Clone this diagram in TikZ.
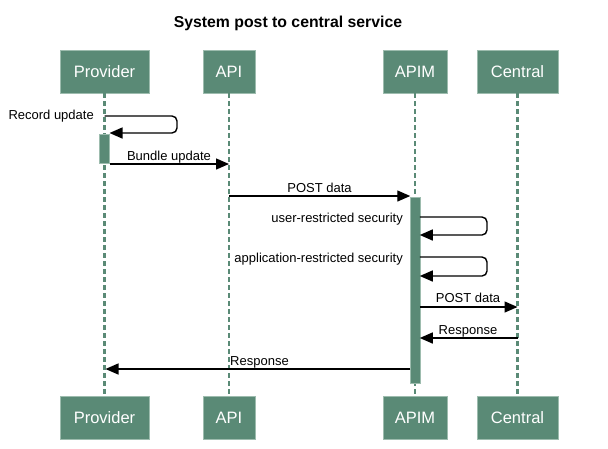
\documentclass[tikz,border=0pt]{standalone}
\usepackage{fontspec}
\setmainfont{Liberation Sans}
\usetikzlibrary{arrows.meta}
\definecolor{boxgreen}{HTML}{5A8A76}
\definecolor{boxedge}{HTML}{9DBCAE}
\tikzset{
  actor/.style={draw=boxedge, line width=0.8pt, fill=boxgreen, minimum height=43pt, inner sep=0pt, text=white, font=\fontsize{16.5}{18}\selectfont},
  lifeline/.style={draw=boxgreen, line width=2.6pt, dash pattern=on 5pt off 3pt},
  actbar/.style={fill=boxgreen, draw=boxedge, line width=0.5pt, minimum width=9.5pt, inner sep=0pt},
  msg/.style={draw=black, line width=1.4pt, -{Triangle[length=13pt,width=11pt]}},
  lbl/.style={font=\fontsize{13}{15}\selectfont, inner sep=0pt, anchor=base},
}
\begin{document}
\begin{tikzpicture}[x=1pt,y=-1pt]
\useasboundingbox (0,0) rectangle (608,448);
\fill[white] (0,0) rectangle (608,448);
% title
\node[font=\bfseries\fontsize{15.8}{18}\selectfont, anchor=base, inner sep=0pt] (title) at (288,27.5) {System post to central service};
% actors top
\node[actor, minimum width=89pt] (pT) at (104.5,71.5) {Provider};
\node[actor, minimum width=52pt] (aT) at (229,71.5) {API};
\node[actor, minimum width=64pt] (mT) at (415,71.5) {APIM};
\node[actor, minimum width=81pt] (cT) at (517.5,71.5) {Central};
% actors bottom
\node[actor, minimum width=89pt] (pB) at (104.5,417.5) {Provider};
\node[actor, minimum width=52pt] (aB) at (229,417.5) {API};
\node[actor, minimum width=64pt] (mB) at (415,417.5) {APIM};
\node[actor, minimum width=81pt] (cB) at (517.5,417.5) {Central};
% lifelines
\draw[lifeline] (pT.south) -- (pB.north);
\draw[lifeline] (aT.south) -- (aB.north);
\draw[lifeline] (mT.south) -- (mB.north);
\draw[lifeline] (cT.south) -- (cB.north);
% activation bars
\node[actbar, minimum width=10pt, minimum height=29pt, anchor=north] (pAct) at (104.5,134) {};
\node[actbar, minimum height=186pt, anchor=north] (mAct) at (415,197) {};
% coordinates
\coordinate (r1s) at (104.5,116);
\coordinate (r1e) at (109.5,133);
\coordinate (b1s) at (109.5,164);
\coordinate (b1e) at (229,164);
\coordinate (p1s) at (229,196);
\coordinate (p1e) at (410.25,196);
\coordinate (u1s) at (419.75,217);
\coordinate (u1e) at (419.75,235);
\coordinate (a1s) at (419.75,257);
\coordinate (a1e) at (419.75,276);
\coordinate (p2s) at (419.75,307);
\coordinate (p2e) at (517.5,307);
\coordinate (rs1) at (517.5,338);
\coordinate (re1) at (419.75,338);
\coordinate (rs2) at (410.25,369);
\coordinate (re2) at (105.5,369);
% messages
\draw[msg, rounded corners=5pt] (r1s) -- (177,116) -- (177,133) -- (r1e);
\node[lbl, anchor=base east] (l1) at (94,119.5) {Record update};
\draw[msg] (b1s) -- (b1e);
\node[lbl] (l2) at (169,160) {Bundle update};
\draw[msg] (p1s) -- (p1e);
\node[lbl] (l3) at (319.5,192) {POST data};
\draw[msg, rounded corners=5pt] (u1s) -- (487,217) -- (487,235) -- (u1e);
\node[lbl, anchor=base east] (l4) at (403,222.8) {user-restricted security};
\draw[msg, rounded corners=5pt] (a1s) -- (487,257) -- (487,276) -- (a1e);
\node[lbl, anchor=base east] (l5) at (403,262) {application-restricted security};
\draw[msg] (p2s) -- (p2e);
\node[lbl] (l6) at (468,302.5) {POST data};
\draw[msg] (rs1) -- (re1);
\node[lbl] (l7) at (468,334.5) {Response};
\draw[msg] (rs2) -- (re2);
\node[lbl, anchor=base west] (l8) at (230,365.5) {Response};
\end{tikzpicture}
\end{document}
